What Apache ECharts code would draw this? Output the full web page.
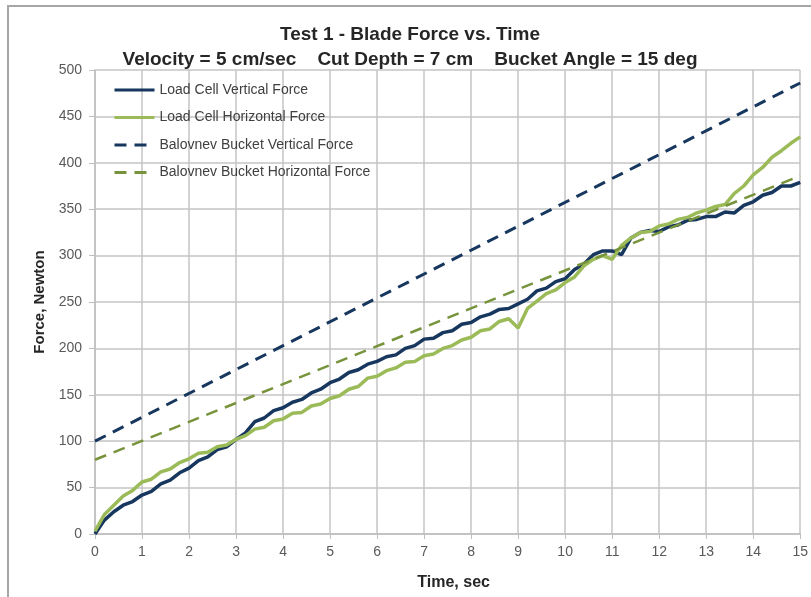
<!DOCTYPE html>
<html>
<head>
<meta charset="utf-8">
<title>Blade Force vs. Time</title>
<script src="https://cdn.jsdelivr.net/npm/echarts@6/dist/echarts.min.js"></script>
<style>
  html, body { margin: 0; padding: 0; background: #fff; }
  #chart { width: 811px; height: 597px; }
</style>
</head>
<body>
<div id="chart"></div>
<script>
// time, sec
var times = [0, 0.2, 0.4, 0.6, 0.8, 1, 1.2, 1.4, 1.6, 1.8,
  2, 2.2, 2.4, 2.6, 2.8, 3, 3.2, 3.4, 3.6, 3.8,
  4, 4.2, 4.4, 4.6, 4.8, 5, 5.2, 5.4, 5.6, 5.8,
  6, 6.2, 6.4, 6.6, 6.8, 7, 7.2, 7.4, 7.6, 7.8,
  8, 8.2, 8.4, 8.6, 8.8, 9, 9.2, 9.4, 9.6, 9.8,
  10, 10.2, 10.4, 10.6, 10.8, 11, 11.2, 11.4, 11.6, 11.8,
  12, 12.2, 12.4, 12.6, 12.8, 13, 13.2, 13.4, 13.6, 13.8,
  14, 14.2, 14.4, 14.6, 14.8, 15];

// load cell readings, Newton
var loadVertical = [0, 15, 24, 31, 35, 42, 46, 54, 58, 66,
  71, 79, 83, 91, 94, 102, 109, 121, 125, 133,
  136, 142, 145, 152, 156, 163, 167, 174, 177, 183,
  186, 191, 193, 200, 203, 210, 211, 217, 219, 226,
  228, 234, 237, 242, 243, 248, 253, 262, 265, 272,
  275, 285, 291, 301, 305, 305, 301, 319, 325, 327,
  326, 331, 333, 338, 339, 342, 342, 347, 346, 354,
  358, 365, 368, 375, 375, 379];
var loadHorizontal = [3, 21, 31, 41, 47, 56, 59, 67, 70, 77,
  81, 87, 88, 94, 96, 102, 106, 113, 115, 122,
  124, 130, 131, 138, 140, 146, 149, 156, 159, 168,
  170, 176, 179, 185, 186, 192, 194, 200, 203, 209,
  212, 219, 221, 229, 232, 222, 243, 251, 259, 263,
  271, 277, 289, 296, 300, 296, 311, 319, 325, 326,
  332, 334, 339, 341, 346, 349, 353, 355, 367, 375,
  387, 395, 406, 413, 421, 428];

// Balovnev model (straight lines, end points)
var balTimes = [0, 15];
var balVertical = [100, 486];
var balHorizontal = [80, 386];

function pairs(xs, ys) {
  var out = [];
  for (var i = 0; i < xs.length; i++) out.push([xs[i], ys[i]]);
  return out;
}

var chart = echarts.init(document.getElementById('chart'));
var font = "'Liberation Sans', Arial, sans-serif";

chart.setOption({
  animation: false,
  textStyle: { fontFamily: font },
  title: [{
    text: 'Test 1 - Blade Force vs. Time',
    left: 405, top: 20, textAlign: 'center',
    textStyle: { fontSize: 19, fontWeight: 'bold', color: '#262626', fontFamily: font }
  }, {
    text: 'Velocity = 5 cm/sec    Cut Depth = 7 cm    Bucket Angle = 15 deg',
    left: 405, top: 45, textAlign: 'center',
    textStyle: { fontSize: 19, fontWeight: 'bold', color: '#262626', fontFamily: font }
  }],
  graphic: [{
    type: 'rect',
    shape: { x: 8, y: 6, width: 900, height: 700 },
    style: { fill: 'none', stroke: '#a6a6a6', lineWidth: 2 },
    silent: true
  }],
  legend: {
    orient: 'vertical',
    left: 108, top: 78,
    itemWidth: 40, itemHeight: 14, itemGap: 13.5,
    itemStyle: { opacity: 0 },
    lineStyle: { width: 3 },
    textStyle: { fontSize: 14, color: '#404040', fontFamily: font },
    data: ['Load Cell Vertical Force', 'Load Cell Horizontal Force',
      'Balovnev Bucket Vertical Force', 'Balovnev Bucket Horizontal Force']
  },
  grid: { left: 95, right: 6, top: 70, bottom: 63 },
  xAxis: {
    type: 'value', min: 0, max: 15, interval: 1,
    name: 'Time, sec', nameLocation: 'middle', nameGap: 41,
    nameTextStyle: { fontSize: 16, fontWeight: 'bold', color: '#262626', padding: [0, 0, 0, 12] },
    axisLine: { lineStyle: { color: '#bfbfbf', width: 1.5 } },
    axisTick: { show: true, length: 5, lineStyle: { color: '#bfbfbf' } },
    axisLabel: { fontSize: 14, color: '#595959', margin: 11 },
    splitLine: { lineStyle: { color: '#c4c4c4', width: 1.5 } }
  },
  yAxis: {
    type: 'value', min: 0, max: 500, interval: 50,
    name: 'Force, Newton', nameLocation: 'middle', nameGap: 43,
    nameTextStyle: { fontSize: 15, fontWeight: 'bold', color: '#262626' },
    axisLine: { show: true, lineStyle: { color: '#bfbfbf', width: 1.5 } },
    axisTick: { show: true, length: 6, lineStyle: { color: '#bfbfbf' } },
    axisLabel: { fontSize: 14, color: '#595959', margin: 13 },
    splitLine: { lineStyle: { color: '#c4c4c4', width: 1.5 } }
  },
  series: [{
    name: 'Load Cell Vertical Force',
    type: 'line', symbol: 'none',
    data: pairs(times, loadVertical),
    lineStyle: { color: '#17375e', width: 3.5 },
    itemStyle: { color: '#17375e' }
  }, {
    name: 'Load Cell Horizontal Force',
    type: 'line', symbol: 'none',
    data: pairs(times, loadHorizontal),
    lineStyle: { color: '#9bbb59', width: 3.5 },
    itemStyle: { color: '#9bbb59' }
  }, {
    name: 'Balovnev Bucket Vertical Force',
    type: 'line', symbol: 'none',
    data: pairs(balTimes, balVertical),
    lineStyle: { color: '#17375e', width: 3, type: [12, 8] },
    itemStyle: { color: '#17375e' }
  }, {
    name: 'Balovnev Bucket Horizontal Force',
    type: 'line', symbol: 'none',
    data: pairs(balTimes, balHorizontal),
    lineStyle: { color: '#77933c', width: 2.5, type: [12, 8] },
    itemStyle: { color: '#77933c' }
  }]
});
</script>
</body>
</html>
